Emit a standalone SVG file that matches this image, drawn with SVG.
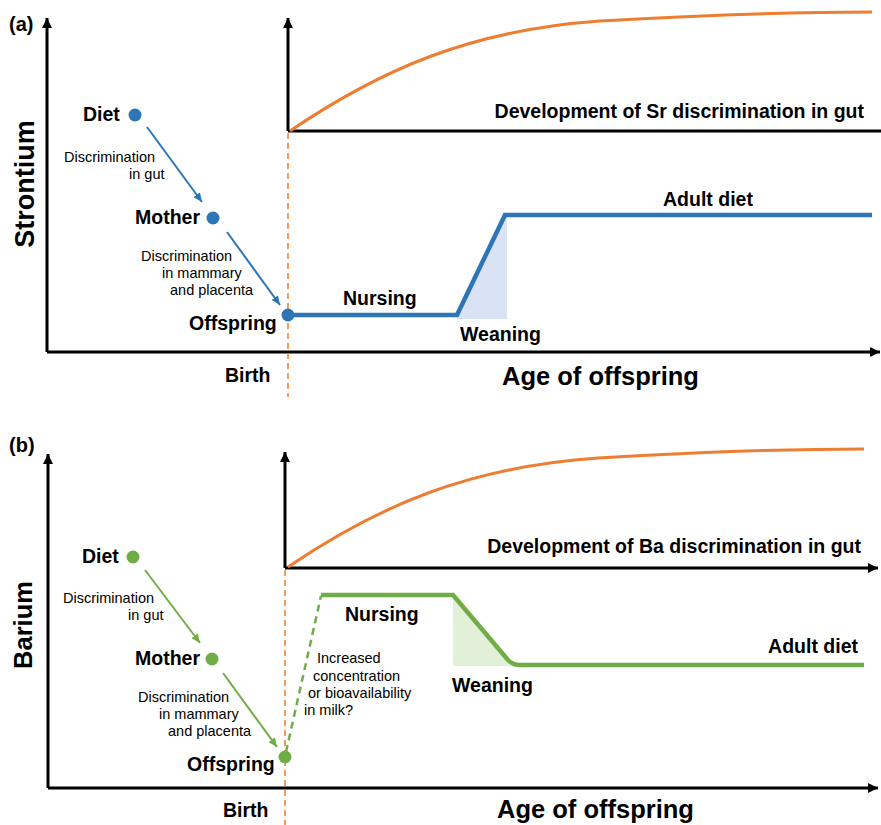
<svg xmlns="http://www.w3.org/2000/svg" width="881" height="825" viewBox="0 0 881 825">
<style>
  .ax{stroke:#000;stroke-width:3;fill:none}
  .b{font-family:"Liberation Sans",Arial,sans-serif;font-weight:bold;fill:#000}
  .lab{font-size:19.5px}
  .r{font-family:"Liberation Sans",Arial,sans-serif;font-size:14.5px;fill:#000}
  .birth{stroke:#ed7d31;stroke-width:1.5;stroke-dasharray:6,4;fill:none}
  .dev{stroke:#ed7d31;stroke-width:3;fill:none}
</style>
<defs>
  <marker id="axh" markerUnits="userSpaceOnUse" markerWidth="12" markerHeight="10" refX="10" refY="5" orient="auto">
    <path d="M0,0 L10,5 L0,10 Z" fill="#000"/>
  </marker>
  <marker id="bh" markerUnits="userSpaceOnUse" markerWidth="10" markerHeight="8" refX="9" refY="4" orient="auto">
    <path d="M0,0 L9,4 L0,8 Z" fill="#2e75b6"/>
  </marker>
  <marker id="gh" markerUnits="userSpaceOnUse" markerWidth="10" markerHeight="8" refX="9" refY="4" orient="auto">
    <path d="M0,0 L9,4 L0,8 Z" fill="#70ad47"/>
  </marker>
</defs>
<rect width="881" height="825" fill="#fff"/>

<!-- Panel (a) -->
<g id="panel-a">
  <text class="b" x="9" y="31" font-size="20">(a)</text>
  <path class="ax" d="M47,352 V18" marker-end="url(#axh)"/>
  <path class="ax" d="M47,352 H880" marker-end="url(#axh)"/>
  <path class="ax" d="M288,131 V18" marker-end="url(#axh)"/>
  <path class="ax" d="M288,131 H881"/>
  <path class="birth" d="M288,133 V397"/>
  <text class="b" font-size="27" transform="translate(34,184) rotate(-90)" text-anchor="middle">Strontium</text>
  <text class="b lab" x="225" y="382">Birth</text>
  <text class="b" x="502" y="385" font-size="25.5">Age of offspring</text>
</g>

<g id="dev-sr">
  <path class="dev" d="M290,131 C380,70 470,30 600,21 C720,14 800,12 872,12"/>
  <text class="b lab" x="864" y="118" text-anchor="end">Development of Sr discrimination in gut</text>
</g>

<g id="sr-curve">
  <polygon points="457,319 505,215 507,215 507,319" fill="#dae3f3"/>
  <path d="M288,315 H457 L505,215 H872" stroke="#2e75b6" stroke-width="4.5" fill="none" stroke-linejoin="miter"/>
  <text class="b lab" x="343" y="305">Nursing</text>
  <text class="b lab" x="460" y="341">Weaning</text>
  <text class="b lab" x="663" y="206">Adult diet</text>
</g>

<g id="a-diet">
  <circle cx="135" cy="115" r="6.5" fill="#2e75b6"/>
  <text class="b lab" x="83" y="121">Diet</text>
</g>
<g id="a-mother">
  <circle cx="213" cy="218" r="6.5" fill="#2e75b6"/>
  <text class="b lab" x="135" y="224">Mother</text>
</g>
<g id="a-offspring">
  <circle cx="288" cy="315" r="6.5" fill="#2e75b6"/>
  <text class="b lab" x="189" y="330">Offspring</text>
</g>
<g id="a-connectors">
  <path d="M147,127 L202,202" stroke="#2e75b6" stroke-width="2" fill="none" marker-end="url(#bh)"/>
  <path d="M227,232 L280,305" stroke="#2e75b6" stroke-width="2" fill="none" marker-end="url(#bh)"/>
  <text class="r" x="64" y="162">Discrimination</text>
  <text class="r" x="129" y="179">in gut</text>
  <text class="r" x="141" y="261">Discrimination</text>
  <text class="r" x="162" y="278">in mammary</text>
  <text class="r" x="170" y="295">and placenta</text>
</g>

<!-- Panel (b) -->
<g id="panel-b">
  <text class="b" x="9" y="452" font-size="20">(b)</text>
  <path class="ax" d="M48,788 V454" marker-end="url(#axh)"/>
  <path class="ax" d="M48,788 H878" marker-end="url(#axh)"/>
  <path class="ax" d="M285,568 V452" marker-end="url(#axh)"/>
  <path class="ax" d="M285,568 H878" marker-end="url(#axh)"/>
  <path class="birth" d="M285,570 V825"/>
  <text class="b" font-size="25.5" transform="translate(32,625) rotate(-90)" text-anchor="middle">Barium</text>
  <text class="b lab" x="223" y="817">Birth</text>
  <text class="b" x="497" y="818" font-size="25.5">Age of offspring</text>
</g>

<g id="dev-ba">
  <path class="dev" d="M288,567 C378,506 468,467 598,458 C718,451 798,449 864,449"/>
  <text class="b lab" x="861" y="553" text-anchor="end">Development of Ba discrimination in gut</text>
</g>

<g id="ba-curve">
  <polygon points="453,595 511,663 514,666 453,666" fill="#e2f0d9"/>
  <path d="M321,595 H453 L508,660 Q513,665 520,665 H864" stroke="#70ad47" stroke-width="4.5" fill="none"/>
  <path d="M286,752 L321,596" stroke="#70ad47" stroke-width="2.5" stroke-dasharray="7,5" fill="none"/>
  <text class="b lab" x="345" y="621">Nursing</text>
  <text class="b lab" x="452" y="692">Weaning</text>
  <text class="b lab" x="858" y="653" text-anchor="end">Adult diet</text>
  <text class="r" x="317" y="663">Increased</text>
  <text class="r" x="313" y="681">concentration</text>
  <text class="r" x="308" y="698">or bioavailability</text>
  <text class="r" x="304" y="715">in milk?</text>
</g>

<g id="b-diet">
  <circle cx="133" cy="557" r="6.5" fill="#70ad47"/>
  <text class="b lab" x="82" y="563">Diet</text>
</g>
<g id="b-mother">
  <circle cx="212" cy="659" r="6.5" fill="#70ad47"/>
  <text class="b lab" x="135" y="665">Mother</text>
</g>
<g id="b-offspring">
  <circle cx="285" cy="757" r="6.5" fill="#70ad47"/>
  <text class="b lab" x="187" y="771">Offspring</text>
</g>
<g id="b-connectors">
  <path d="M145,570 L200,643" stroke="#70ad47" stroke-width="2" fill="none" marker-end="url(#gh)"/>
  <path d="M223,673 L277,747" stroke="#70ad47" stroke-width="2" fill="none" marker-end="url(#gh)"/>
  <text class="r" x="63" y="603">Discrimination</text>
  <text class="r" x="128" y="620">in gut</text>
  <text class="r" x="138" y="702">Discrimination</text>
  <text class="r" x="159" y="719">in mammary</text>
  <text class="r" x="168" y="736">and placenta</text>
</g>
</svg>
